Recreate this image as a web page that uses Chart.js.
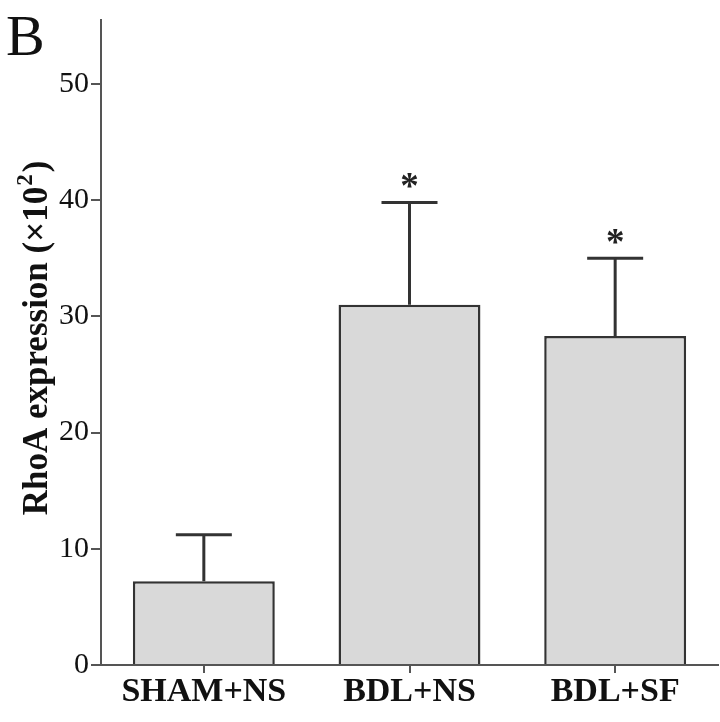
<!DOCTYPE html>
<html>
<head>
<meta charset="utf-8">
<script src="https://cdn.jsdelivr.net/npm/chart.js@4.4.0/dist/chart.umd.min.js"></script>
<style>
  html, body { margin: 0; padding: 0; background: #fff; }
  #wrap { width: 720px; height: 722px; }
</style>
</head>
<body>
<div id="wrap"><canvas id="rhoa_chart" width="720" height="722"></canvas></div>
<script>
// data
var groups = ['SHAM+NS', 'BDL+NS', 'BDL+SF'];
var rhoa = [7.2, 31.0, 28.3];
var sem = [4.0, 8.8, 6.7];
var marks = ['', '*', '*'];
var yTicks = [0, 10, 20, 30, 40, 50];

var serif = '"Liberation Serif", "Times New Roman", serif';

// error bars (upper only), asterisks, y title with superscript, panel letter
var extras = {
    id: 'extras',
    afterDatasetsDraw: function(chart) {
        var ctx = chart.ctx;
        var x = chart.scales.x;
        var y = chart.scales.y;
        ctx.save();
        ctx.strokeStyle = '#333';
        ctx.lineWidth = 3;
        for (var i = 0; i < rhoa.length; i++) {
            var cx = x.getPixelForValue(i);
            var top = y.getPixelForValue(rhoa[i] + sem[i]);
            var base = y.getPixelForValue(rhoa[i]);
            ctx.beginPath();
            ctx.moveTo(cx, base);
            ctx.lineTo(cx, top);
            ctx.moveTo(cx - 28, top);
            ctx.lineTo(cx + 28, top);
            ctx.stroke();
            if (marks[i]) {
                ctx.fillStyle = '#222';
                ctx.font = 'bold 37px ' + serif;
                ctx.textAlign = 'center';
                ctx.textBaseline = 'middle';
                ctx.fillText(marks[i], cx, top - 14);
            }
        }

        // y axis title
        var main = 'RhoA expression (\u00d710';
        var sup = '2';
        var end = ')';
        var big = 'bold 35px ' + serif;
        var small = 'bold 23px ' + serif;
        ctx.font = big;
        var w1 = ctx.measureText(main).width;
        var w3 = ctx.measureText(end).width;
        ctx.font = small;
        var w2 = ctx.measureText(sup).width + 3;
        var total = w1 + w2 + w3;
        ctx.translate(47, 338);
        ctx.rotate(-Math.PI / 2);
        ctx.fillStyle = '#111';
        ctx.textAlign = 'left';
        ctx.textBaseline = 'alphabetic';
        var sx = -total / 2;
        ctx.font = big;
        ctx.fillText(main, sx, 0);
        ctx.font = small;
        ctx.fillText(sup, sx + w1 + 1, -15);
        ctx.font = big;
        ctx.fillText(end, sx + w1 + w2, 0);
        ctx.setTransform(1, 0, 0, 1, 0, 0);

        ctx.fillStyle = '#111';
        ctx.font = '58px ' + serif;
        ctx.textAlign = 'left';
        ctx.fillText('B', 6, 55);
        ctx.restore();
    }
};

var chart = new Chart(document.getElementById('rhoa_chart').getContext('2d'), {
    type: 'bar',
    data: {
        labels: groups,
        datasets: [{
            label: 'RhoA',
            data: rhoa,
            backgroundColor: '#d9d9d9',
            borderColor: '#333',
            borderWidth: 2.5,
            barPercentage: 0.69,
            categoryPercentage: 1
        }]
    },
    options: {
        responsive: false,
        animation: false,
        layout: { padding: { top: 16, right: 2, bottom: 10, left: 0 } },
        plugins: {
            legend: { display: false },
            tooltip: { enabled: false }
        },
        scales: {
            x: {
                grid: { drawOnChartArea: false, offset: false, tickLength: 8, color: '#555', lineWidth: 2 },
                border: { display: true, color: '#555', width: 2 },
                ticks: {
                    color: '#111',
                    padding: 0,
                    font: { family: serif, size: 34, weight: 'bold', lineHeight: 1.15 }
                }
            },
            y: {
                min: 0,
                max: 55.5,
                afterBuildTicks: function(axis) {
                    axis.ticks = yTicks.map(function(v) { return { value: v }; });
                },
                afterFit: function(axis) { axis.width = 101; },
                grid: { drawOnChartArea: false, tickLength: 10, color: '#555', lineWidth: 2 },
                border: { display: true, color: '#555', width: 2 },
                ticks: {
                    color: '#111',
                    padding: 2,
                    font: { family: serif, size: 30 }
                }
            }
        }
    },
    plugins: [extras]
});
</script>
</body>
</html>
